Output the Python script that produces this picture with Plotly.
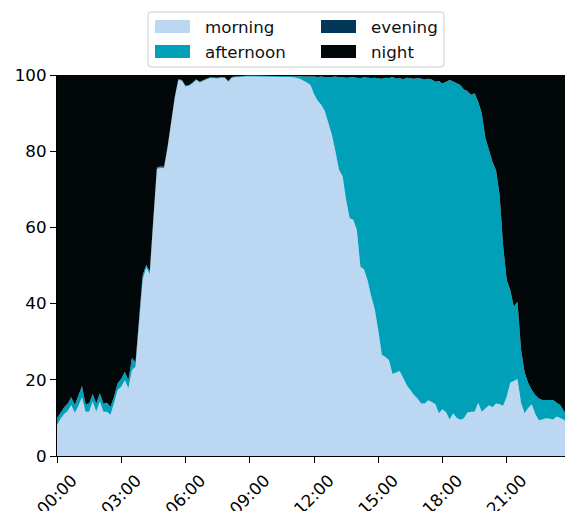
import plotly.graph_objects as go
import pandas as pd

# 10-minute time slots over one day
times = pd.date_range("2024-01-01 00:00", periods=144, freq="10min")

morning = [
    8.1, 9.8, 11.0, 11.8, 13.4, 11.3, 13.2, 15.4, 11.6, 11.6, 14.3, 11.6,
    14.3, 11.6, 11.6, 10.8, 14.0, 17.3, 18.2, 19.9, 17.8, 22.6, 23.4, 34.0,
    46.2, 49.5, 47.8, 62.0, 75.3, 75.6, 75.5, 81.0, 87.0, 94.0, 98.7, 98.5,
    97.0, 97.2, 97.8, 98.7, 98.0, 98.5, 98.9, 99.2, 99.2, 99.1, 99.3, 99.2,
    98.2, 99.3, 99.4, 99.5, 99.6, 99.6, 99.6, 99.6, 99.6, 99.6, 99.6, 99.6,
    99.6, 99.6, 99.6, 99.6, 99.6, 99.5, 99.4, 99.3, 99.0, 98.6, 98.0, 97.4,
    95.0, 93.3, 92.2, 90.6, 87.2, 84.3, 80.0, 75.1, 73.5, 67.2, 62.4, 62.0,
    59.3, 49.7, 49.0, 46.1, 42.0, 38.6, 33.1, 26.6, 26.0, 25.2, 21.5, 22.0,
    22.3, 20.5, 18.6, 17.3, 16.0, 15.1, 13.8, 13.8, 14.6, 14.2, 13.6, 11.2,
    12.3, 11.5, 9.6, 11.2, 10.0, 9.5, 9.9, 11.4, 11.6, 11.6, 14.0, 11.6,
    12.5, 13.3, 12.8, 13.8, 13.6, 13.2, 15.6, 19.3, 19.7, 20.2, 14.0, 11.2,
    12.6, 13.6, 11.0, 9.4, 9.6, 9.9, 9.8, 9.6, 10.4, 10.0, 9.5, 8.4,
]

afternoon = [
    1.8, 1.7, 1.8, 2.0, 2.0, 2.1, 2.8, 3.0, 2.0, 2.2, 2.0, 2.2,
    2.2, 2.2, 2.4, 2.1, 1.6, 1.8, 2.1, 2.2, 2.1, 3.1, 1.2, 1.5,
    1.3, 0.6, 0.7, 0.5, 0.5, 0.4, 0.4, 0.3, 0.3, 0.3, 0.2, 0.2,
    0.2, 0.2, 0.2, 0.2, 0.2, 0.2, 0.2, 0.2, 0.2, 0.2, 0.2, 0.2,
    0.2, 0.2, 0.2, 0.2, 0.2, 0.2, 0.2, 0.2, 0.2, 0.2, 0.2, 0.2,
    0.2, 0.2, 0.2, 0.2, 0.2, 0.3, 0.4, 0.4, 0.7, 1.0, 1.6, 2.3,
    4.6, 6.2, 7.4, 8.9, 12.2, 15.2, 19.6, 24.3, 26.0, 32.1, 37.0, 37.5,
    40.0, 49.5, 50.4, 53.2, 57.2, 60.7, 66.1, 72.4, 73.3, 74.0, 78.0, 77.1,
    76.9, 78.4, 80.7, 81.8, 83.0, 84.1, 85.3, 85.1, 84.4, 84.6, 84.6, 87.2,
    85.5, 86.7, 89.1, 87.1, 87.8, 87.9, 86.2, 84.3, 83.1, 83.5, 78.9, 78.3,
    70.9, 66.6, 64.3, 61.1, 54.8, 41.7, 30.5, 24.1, 19.4, 20.2, 13.9, 10.7,
    6.6, 3.7, 5.0, 5.7, 5.1, 4.8, 4.9, 5.1, 3.6, 3.4, 2.3, 2.1,
]

evening = [0.0] * 114 + [
    0.1, 0.1, 0.1, 0.1, 0.1, 0.1, 0.1, 0.1, 0.1, 0.1, 0.1, 0.1,
    0.1, 0.1, 0.1, 0.1, 0.1, 0.1,
] + [0.0] * 12

night = [
    90.1, 88.5, 87.2, 86.2, 84.6, 86.6, 84.0, 81.6, 86.4, 86.2, 83.7, 86.2,
    83.5, 86.2, 86.0, 87.1, 84.4, 80.9, 79.7, 77.9, 80.1, 74.3, 75.4, 64.5,
    52.5, 49.9, 51.5, 37.5, 24.2, 24.0, 24.1, 18.7, 12.7, 5.7, 1.1, 1.3,
    2.8, 2.6, 2.0, 1.1, 1.8, 1.3, 0.9, 0.6, 0.6, 0.7, 0.5, 0.6,
    1.6, 0.5, 0.4, 0.3, 0.2, 0.2, 0.2, 0.2, 0.2, 0.2, 0.2, 0.2,
    0.2, 0.2, 0.2, 0.2, 0.2, 0.2, 0.2, 0.3, 0.3, 0.4, 0.4, 0.3,
    0.4, 0.5, 0.4, 0.5, 0.6, 0.5, 0.4, 0.6, 0.5, 0.7, 0.6, 0.5,
    0.7, 0.8, 0.6, 0.7, 0.8, 0.7, 0.8, 1.0, 0.7, 0.8, 0.5, 0.9,
    0.8, 1.1, 0.7, 0.9, 1.0, 0.8, 0.9, 1.1, 1.0, 1.2, 1.8, 1.6,
    2.2, 1.8, 1.3, 1.7, 2.2, 2.6, 3.8, 4.2, 5.2, 4.8, 7.0, 10.0,
    16.5, 20.0, 22.8, 25.0, 31.5, 45.0, 53.8, 56.5, 60.8, 59.5, 72.0, 78.0,
    80.7, 82.7, 84.0, 84.9, 85.3, 85.3, 85.3, 85.3, 86.0, 86.6, 88.2, 89.5,
]

series_names = ["morning", "afternoon", "evening", "night"]
series_values = [morning, afternoon, evening, night]
series_colors = ["#BBD7F1", "#00A0B8", "#03375A", "#02080A"]

y_ticks = [0, 20, 40, 60, 80, 100]

W, H = 565, 511
ML, MR, MT, MB = 57, 0, 75, 55
PW, PH = W - ML - MR, H - MT - MB

def px(xw):
    return (xw - ML) / PW

def py(yw):
    return (H - MB - yw) / PH

fig = go.Figure()
for name, vals, col in zip(series_names, series_values, series_colors):
    fig.add_trace(go.Scatter(
        x=times, y=vals, name=name, mode="lines",
        stackgroup="one", groupnorm="percent",
        line=dict(width=0, color=col), fillcolor=col,
        showlegend=False, hoverinfo="x+y+name",
    ))

FONT = "DejaVu Sans"
FS = 16.7

# legend (box, swatches, labels), positions in pixels
shapes = []
annotations = []
bx0, bx1, by0, by1, r = 148, 444, 12, 67, 3
path = (f"M {px(bx0 + r)},{py(by0)} L {px(bx1 - r)},{py(by0)} "
        f"Q {px(bx1)},{py(by0)} {px(bx1)},{py(by0 + r)} "
        f"L {px(bx1)},{py(by1 - r)} Q {px(bx1)},{py(by1)} {px(bx1 - r)},{py(by1)} "
        f"L {px(bx0 + r)},{py(by1)} Q {px(bx0)},{py(by1)} {px(bx0)},{py(by1 - r)} "
        f"L {px(bx0)},{py(by0 + r)} Q {px(bx0)},{py(by0)} {px(bx0 + r)},{py(by0)} Z")
shapes.append(dict(type="path", xref="paper", yref="paper", path=path,
                   line=dict(color="#CCCCCC", width=1), fillcolor="white", layer="above"))
legend_pos = [(155, 20, 203, 26.5), (155, 45, 203, 51.5), (321, 20, 369, 26.5), (321, 45, 369, 51.5)]
for (sx, sy, tx, ty), name, col in zip(legend_pos, series_names, series_colors):
    shapes.append(dict(type="rect", xref="paper", yref="paper",
                       x0=px(sx), x1=px(sx + 35), y0=py(sy), y1=py(sy + 13),
                       line=dict(width=0), fillcolor=col, layer="above"))
    annotations.append(dict(xref="paper", yref="paper", x=px(tx), y=py(ty),
                            text=name, showarrow=False, xanchor="left", yanchor="middle",
                            font=dict(family=FONT, size=FS, color="#111111")))

fig.update_layout(
    width=W, height=H, autosize=False,
    margin=dict(l=ML, r=MR, t=MT, b=MB, autoexpand=False),
    paper_bgcolor="white", plot_bgcolor="white",
    font=dict(family=FONT, size=FS, color="black"),
    shapes=shapes, annotations=annotations,
    showlegend=False,
)
fig.update_xaxes(
    range=["2024-01-01 00:00", "2024-01-01 23:43:12"],
    tickformat="%H:%M", dtick=3 * 3600 * 1000, tick0="2024-01-01 00:00",
    tickangle=-45, ticks="outside", ticklen=6, tickwidth=1.2, tickcolor="black",
    ticklabelshift=15, ticklabelstandoff=1, automargin=False,
    showline=True, linecolor="black", linewidth=1.2, showgrid=False, zeroline=False,
    tickfont=dict(family=FONT, size=FS, color="black"),
)
fig.update_yaxes(
    range=[0, 100], tickvals=y_ticks, ticks="outside", ticklen=6, tickwidth=1.2,
    tickcolor="black", showline=True, linecolor="black", linewidth=1.2,
    showgrid=False, zeroline=False, automargin=False,
    tickfont=dict(family=FONT, size=FS, color="black"),
)

fig.write_html(
    "out.html",
    config={"responsive": False, "displayModeBar": False},
    post_script="document.body.style.margin='0';document.body.style.overflow='hidden';",
)
